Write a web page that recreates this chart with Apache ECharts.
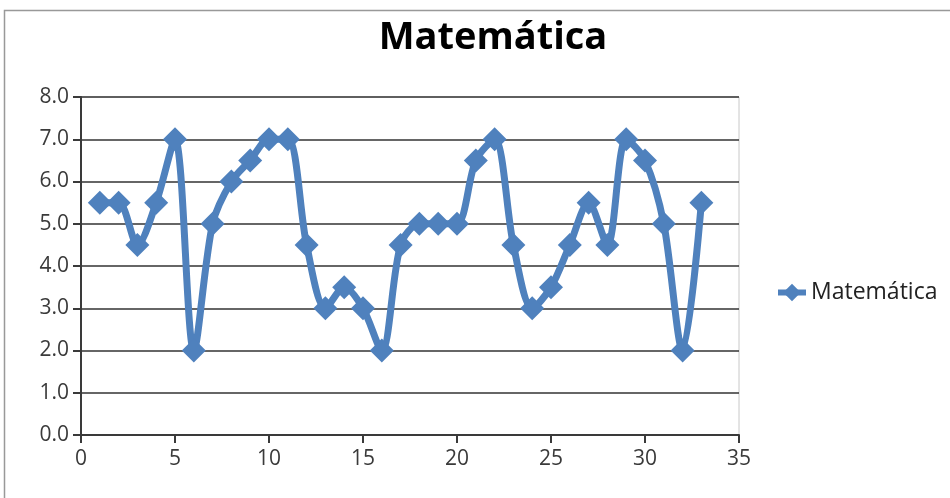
<!DOCTYPE html>
<html><head><meta charset="utf-8">
<script src="https://cdn.jsdelivr.net/npm/echarts@6/dist/echarts.min.js"></script>
<style>html,body{margin:0;padding:0;background:#fff}#c{width:950px;height:498px}</style>
</head><body><div id="c"></div>
<script>
const seriesName = 'Matemática';
const xValues = [1,2,3,4,5,6,7,8,9,10,11,12,13,14,15,16,17,18,19,20,21,22,23,24,25,26,27,28,29,30,31,32,33];
const yValues = [5.5,5.5,4.5,5.5,7.0,2.0,5.0,6.0,6.5,7.0,7.0,4.5,3.0,3.5,3.0,2.0,4.5,5.0,5.0,5.0,6.5,7.0,4.5,3.0,3.5,4.5,5.5,4.5,7.0,6.5,5.0,2.0,5.5];
const data = xValues.map((x, i) => [x, yValues[i]]);
const chart = echarts.init(document.getElementById('c'));
const font = '"Open Sans", "Liberation Sans", sans-serif';
chart.setOption({
  animation: false,
  graphic: [{type:'rect', shape:{x:4.5,y:10.5,width:960,height:500}, style:{fill:'none', stroke:'#999', lineWidth:1.5}, z:-1}],
  title: {text: 'Matemática', left: 488, top: 14, textAlign: 'center',
    textStyle: {fontFamily: font, fontSize: 38, fontWeight: 'bold', color: '#000'}},
  legend: {data: [seriesName], left: 770, top: 276, itemWidth: 28, itemHeight: 22, itemGap: 6,
    lineStyle: {width: 6},
    textStyle: {fontFamily: font, fontSize: 23, color: '#222'}},
  grid: {left: 81, right: 211, top: 97, bottom: 63, show: true, borderColor: '#c8c8c8', borderWidth: 1},
  xAxis: {type: 'value', min: 0, max: 35, interval: 5,
    axisLine: {lineStyle: {color: '#3a3a3a', width: 2}},
    axisTick: {show: true, length: 8, lineStyle: {color: '#3a3a3a', width: 2}},
    splitLine: {show: false},
    axisLabel: {fontFamily: font, fontSize: 21, color: '#3a3a3a', margin: 14}},
  yAxis: {type: 'value', min: 0, max: 8, interval: 1,
    axisLine: {show: true, lineStyle: {color: '#3a3a3a', width: 2}},
    axisTick: {show: true, length: 8, lineStyle: {color: '#3a3a3a', width: 2}},
    splitLine: {show: true, lineStyle: {color: '#333', width: 1.5}},
    axisLabel: {fontFamily: font, fontSize: 21, color: '#3a3a3a', margin: 12, formatter: v => v.toFixed(1)}},
  series: [{name: seriesName, type: 'line', data: data, smooth: 0.3,
    symbol: 'diamond', symbolSize: 24,
    lineStyle: {color: '#4F81BD', width: 7},
    itemStyle: {color: '#4F81BD'}}]
});
</script></body></html>
